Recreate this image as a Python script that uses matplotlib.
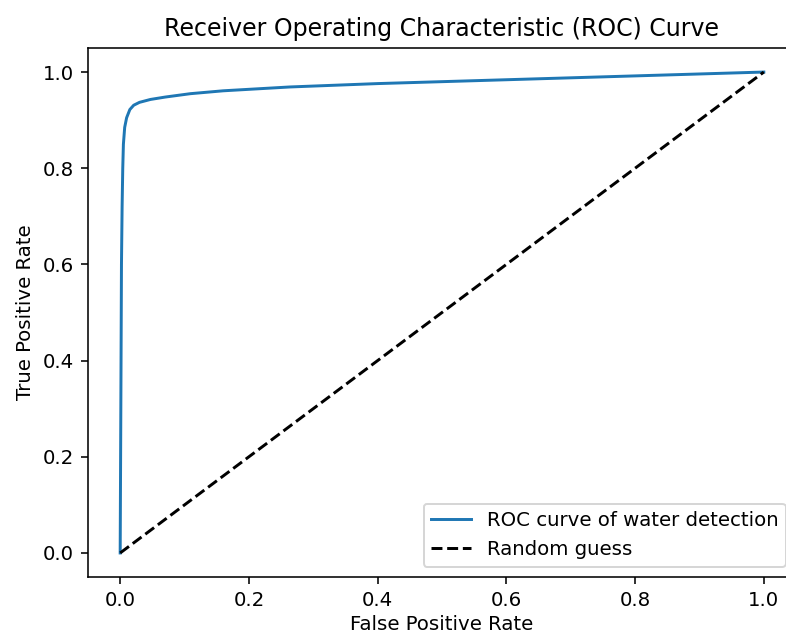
import matplotlib
matplotlib.use('Agg')
import matplotlib.pyplot as plt

# ROC points
fpr = [0.0, 0.001, 0.002, 0.003, 0.004, 0.005, 0.007, 0.01, 0.015, 0.021, 0.03,
       0.047, 0.07, 0.109, 0.16, 0.264, 0.4, 0.6, 0.8, 1.0]
tpr = [0.0, 0.3, 0.6, 0.72, 0.8, 0.85, 0.885, 0.905, 0.922, 0.931, 0.937,
       0.943, 0.948, 0.955, 0.961, 0.969, 0.976, 0.984, 0.992, 1.0]
diag = [0.0, 1.0]

dpi = 142
fig = plt.figure(figsize=(786 / dpi, 635 / dpi), dpi=dpi)
# axes runs a little past the right edge, as in the cropped screenshot
ax = fig.add_axes([88 / 786, 58 / 635, 708 / 786, 529 / 635])

ax.plot(fpr, tpr, label='ROC curve of water detection')
ax.plot(diag, diag, 'k--', label='Random guess')
ax.set_xlabel('False Positive Rate', labelpad=2.5)
ax.set_ylabel('True Positive Rate')
ax.set_title('Receiver Operating Characteristic (ROC) Curve')
ax.legend(loc='lower right')

fig.savefig('out.png', dpi=dpi)
